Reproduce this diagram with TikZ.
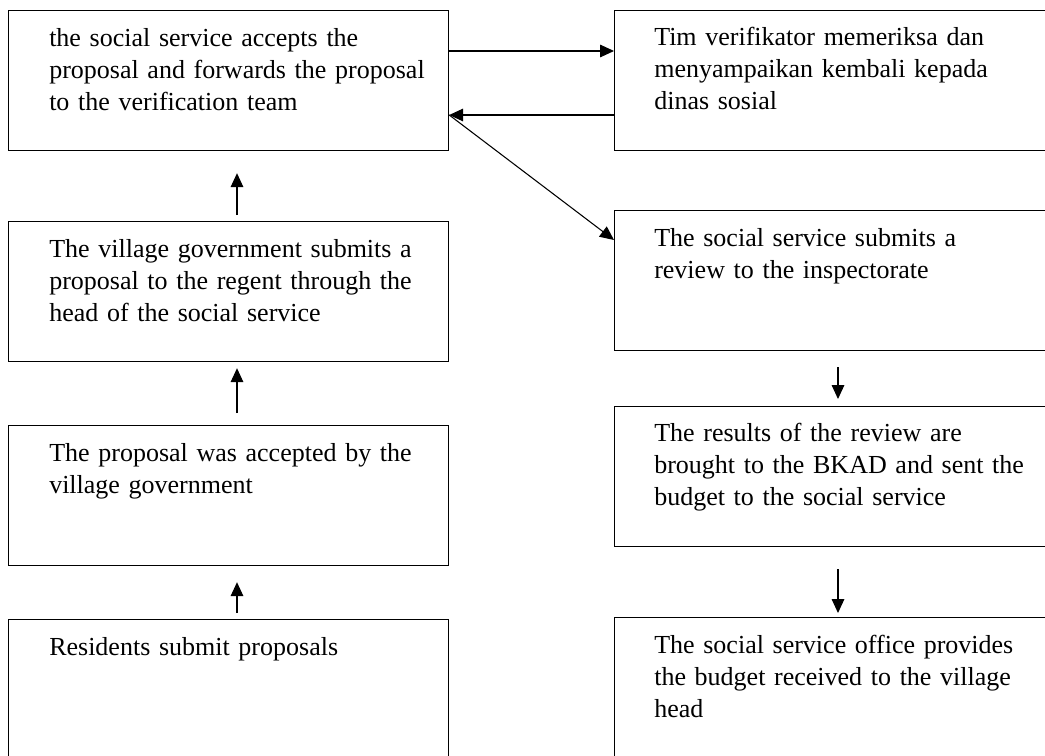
\documentclass[tikz,border=0pt]{standalone}
\usepackage{fontspec}
\setmainfont{Liberation Serif}
\usetikzlibrary{positioning,arrows.meta}

\tikzset{
  stepbox/.style={draw, line width=0.9pt, minimum width=330pt, minimum height=105pt, inner sep=0pt, anchor=north west},
  boxtext/.style={anchor=base west, inner sep=0pt, text width=320pt, align=left, font=\fontsize{19.5pt}{24pt}\selectfont},
  flow/.style={line width=0.8pt, -{Triangle[length=10.5pt,width=9.5pt]}}
}

\begin{document}
\begin{tikzpicture}[x=0.75pt,y=-0.75pt]
\useasboundingbox (0,0) rectangle (1045,756);
\clip (0,0) rectangle (1045,756);
\fill[white] (0,0) rectangle (1045,756);

%Shape: Rectangle (left column)
\node[stepbox] (accept) at (8,10) {};
\node[stepbox] (village) at (8,221) {};
\node[stepbox] (received) at (8,425) {};
\node[stepbox] (residents) at (8,619) {};
%Shape: Rectangle (right column)
\node[stepbox] (verify) at (614,10) {};
\node[stepbox] (review) at (614,210) {};
\node[stepbox] (bkad) at (614,406) {};
\node[stepbox] (budget) at (614,617) {};

% Text Node
\node[boxtext] (acceptText) at ([xshift=30.75pt,yshift=-27.75pt]accept.north west) {the social service accepts the\\proposal and forwards the proposal\\to the verification team};
% Text Node
\node[boxtext] (villageText) at ([xshift=30.75pt,yshift=-27pt]village.north west) {The village government submits a\\proposal to the regent through the\\head of the social service};
% Text Node
\node[boxtext] (receivedText) at ([xshift=30.75pt,yshift=-27pt]received.north west) {The proposal was accepted by the\\village government};
% Text Node
\node[boxtext] (residentsText) at ([xshift=30.75pt,yshift=-27pt]residents.north west) {Residents submit proposals};
% Text Node
\node[boxtext] (verifyText) at ([xshift=30pt,yshift=-27pt]verify.north west) {Tim verifikator memeriksa dan\\menyampaikan kembali kepada\\dinas sosial};
% Text Node
\node[boxtext] (reviewText) at ([xshift=30pt,yshift=-27pt]review.north west) {The social service submits a\\review to the inspectorate};
% Text Node
\node[boxtext] (bkadText) at ([xshift=30pt,yshift=-26.25pt]bkad.north west) {The results of the review are\\brought to the BKAD and sent the\\budget to the social service};
% Text Node
\node[boxtext] (budgetText) at ([xshift=30pt,yshift=-27pt]budget.north west) {The social service office provides\\the budget received to the village\\head};

%Straight Lines (left column, upwards)
\draw[flow] ([xshift=171.75pt,yshift=4.5pt]village.north west) -- ([xshift=171.75pt,yshift=-16.5pt]accept.south west);
\draw[flow] ([xshift=171.75pt,yshift=9pt]received.north west) -- ([xshift=171.75pt,yshift=-4.5pt]village.south west);
\draw[flow] ([xshift=171.75pt,yshift=4.5pt]residents.north west) -- ([xshift=171.75pt,yshift=-12pt]received.south west);
%Straight Lines (between columns)
\draw[flow] ([yshift=-30.75pt]accept.north east) -- ([yshift=-30.75pt]verify.north west);
\draw[flow] ([yshift=-78.75pt]verify.north west) -- ([yshift=-78.75pt]accept.north east);
\draw[flow] ([yshift=-78.75pt]accept.north east) -- ([yshift=-22.5pt]review.north west);
%Straight Lines (right column, downwards)
\draw[flow] ([xshift=168pt,yshift=-12pt]review.south west) -- ([xshift=168pt,yshift=5.25pt]bkad.north west);
\draw[flow] ([xshift=168pt,yshift=-16.5pt]bkad.south west) -- ([xshift=168pt,yshift=3pt]budget.north west);

\end{tikzpicture}
\end{document}
